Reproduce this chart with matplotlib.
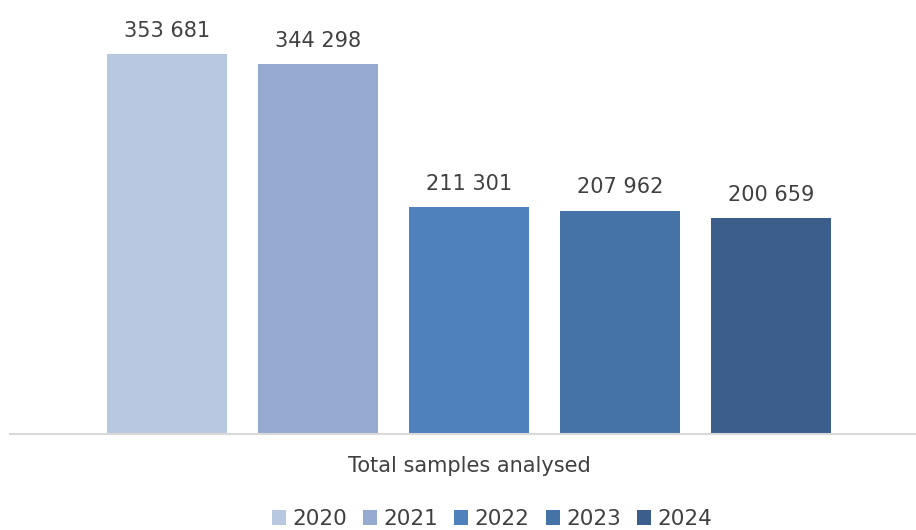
import matplotlib
matplotlib.use("Agg")
import matplotlib.pyplot as plt
from matplotlib.patches import Patch

years = ["2020", "2021", "2022", "2023", "2024"]
samples = [353681, 344298, 211301, 207962, 200659]
colors = ["#B9C8E1", "#95AACF", "#4F81BD", "#4673A7", "#3B5E8C"]

W, H = 916, 530
fig = plt.figure(figsize=(W / 100, H / 100), dpi=100)
ax = fig.add_axes([10 / W, (H - 434) / H, (W - 10) / W, 434 / H])

x = list(range(len(years)))
bars = ax.bar(x, samples, width=0.795, color=colors)

for b, v in zip(bars, samples):
    lbl = "{:,}".format(v).replace(",", " ")
    ax.text(b.get_x() + b.get_width() / 2, v + 12500, lbl,
            ha="center", va="bottom", fontsize=15, color="#404040")

ax.set_xlim(-1.04, 4.96)
ax.set_ylim(0, 404000)
ax.set_xticks([])
ax.set_yticks([])
for s in ["top", "right", "left"]:
    ax.spines[s].set_visible(False)
ax.spines["bottom"].set_color("#D9D9D9")
ax.spines["bottom"].set_linewidth(1.5)

fig.text(469 / W, (H - 466) / H, "Total samples analysed", ha="center",
         va="center", fontsize=15, color="#404040")

handles = [Patch(facecolor=c, label=y) for c, y in zip(colors, years)]
fig.legend(handles=handles, loc="center", bbox_to_anchor=(492 / W, (H - 519) / H),
           ncol=5, frameon=False, fontsize=15.5, handlelength=0.65, handleheight=0.65,
           handletextpad=0.3, columnspacing=0.75, labelcolor="#404040")

fig.savefig("out.png", dpi=100)
